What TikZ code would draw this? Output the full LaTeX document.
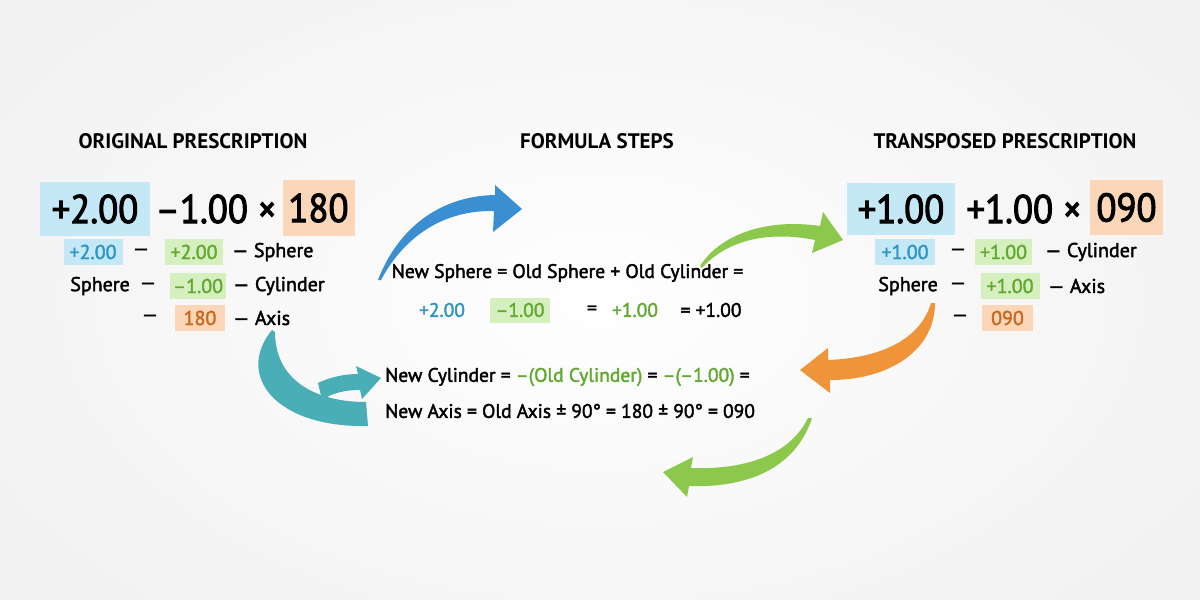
\documentclass[tikz,border=0pt]{standalone}
\usepackage{fontspec}
\setmainfont[Numbers=Proportional]{PT Sans}
\newfontfamily\medfont[Numbers=Proportional,FakeBold=2]{PT Sans}
\newfontfamily\bigfont[Numbers=Proportional,FakeBold=2.5,FakeStretch=0.92]{PT Sans}
\begin{document}
\begin{tikzpicture}[x=1pt,y=-1pt,
  bluebox/.style={fill=boxblue,inner sep=0pt,text=black},
  greenbox/.style={fill=boxgreen,inner sep=0pt},
  orangebox/.style={fill=boxorange,inner sep=0pt},
  title/.style={font=\fontsize{21}{24}\selectfont\bfseries,inner sep=0pt},
  big/.style={font=\fontsize{40}{44}\bigfont\selectfont,inner sep=0pt},
  small/.style={font=\fontsize{20}{23}\medfont\selectfont,inner sep=0pt},
  formula/.style={font=\fontsize{19.5}{23}\medfont\selectfont,inner sep=0pt}
]
\definecolor{boxblue}{HTML}{C4E8F6}
\definecolor{boxgreen}{HTML}{D6EFBF}
\definecolor{boxorange}{HTML}{FBD6B8}
\definecolor{tblue}{HTML}{2E95C4}
\definecolor{tgreen}{HTML}{62A832}
\definecolor{torange}{HTML}{C9681E}
\definecolor{ablue}{HTML}{3A8ED2}
\definecolor{agreen}{HTML}{8CC84B}
\definecolor{aorange}{HTML}{F0943A}
\definecolor{ateal}{HTML}{4AAEB6}
\useasboundingbox (0,0) rectangle (1200,600);
\shade[inner color=white,outer color=black!9] (-150,-150) rectangle (1350,750);
\fill[white,opacity=0.4] (0,0) rectangle (1200,600);

% titles
\node[title] (t1) at (193,141) {ORIGINAL PRESCRIPTION};
\node[title] (t2) at (597,141) {FORMULA STEPS};
\node[title] (t3) at (1005,141) {TRANSPOSED PRESCRIPTION};

% left big line
\node[bluebox,big,minimum width=110,minimum height=54] (lA) at (95,209) {+2.00};
\node[big] (lB) at (216,209) {–1.00 ×};
\node[orangebox,big,minimum width=72,minimum height=56] (lC) at (318.5,208) {180};

\node[bluebox,small,text=tblue,minimum width=59,minimum height=26] (l1a) at (93,252) {+2.00};
\node[small] (l1d) at (141,252) {—};
\node[greenbox,small,text=tgreen,minimum width=58,minimum height=26] (l1b) at (194,252) {+2.00};
\node[small,anchor=west] (l1c) at (232,252) {— Sphere};

\node[small,anchor=east] (l2a) at (130,286) {Sphere};
\node[small] (l2d) at (148,286) {—};
\node[greenbox,small,text=tgreen,minimum width=56,minimum height=26] (l2b) at (198,286) {–1.00};
\node[small,anchor=west] (l2c) at (233,286) {— Cylinder};

\node[small] (l3d) at (150,318) {—};
\node[orangebox,small,text=torange,minimum width=50,minimum height=26] (l3b) at (200,318) {180};
\node[small,anchor=west] (l3c) at (233,318) {— Axis};

% right big line
\node[bluebox,big,minimum width=108,minimum height=52] (rA) at (901,209) {+1.00};
\node[big] (rB) at (1024,209) {+1.00 ×};
\node[orangebox,big,minimum width=73,minimum height=55] (rC) at (1126.5,207.5) {090};

\node[bluebox,small,text=tblue,minimum width=60,minimum height=26] (r1a) at (905,252) {+1.00};
\node[small] (r1d) at (958,252) {—};
\node[greenbox,small,text=tgreen,minimum width=57,minimum height=26] (r1b) at (1003.5,252) {+1.00};
\node[small,anchor=west] (r1c) at (1045,252) {— Cylinder};

\node[small,anchor=east] (r2a) at (938,286) {Sphere};
\node[small] (r2d) at (958,286) {—};
\node[greenbox,small,text=tgreen,minimum width=59,minimum height=26] (r2b) at (1010,286) {+1.00};
\node[small,anchor=west] (r2c) at (1048,286) {— Axis};

\node[small] (r3d) at (960,318) {—};
\node[orangebox,small,text=torange,minimum width=51,minimum height=26] (r3b) at (1007.5,318) {090};

% formulas
\node[formula] (f1) at (567.5,273) {New Sphere = Old Sphere + Old Cylinder =};
\node[formula,text=tblue] (f2a) at (442,310) {+2.00};
\node[greenbox,formula,text=tgreen,minimum width=60,minimum height=25] (f2b) at (520,310) {–1.00};
\node[formula] (f2c) at (592,310) {=};
\node[formula,text=tgreen] (f2d) at (635,310) {+1.00};
\node[formula] (f2e) at (711,310) {= +1.00};
\node[formula,anchor=west] (f3) at (385,377) {New Cylinder = \textcolor{tgreen}{–(Old Cylinder)} = \textcolor{tgreen}{–(–1.00)} =};
\node[formula,anchor=west] (f4) at (385,411) {New Axis = Old Axis ± 90° = 180 ± 90° = 090};

% arrows
\fill[ablue] (378,280) .. controls (398,228) and (440,196) .. (495,195) -- (495,185) -- (522,209) -- (493,232) -- (494,211) .. controls (445,210) and (405,235) .. (381,280) -- cycle;
\fill[agreen] (700,266) .. controls (720,235) and (765,218) .. (820,226) -- (823,212) -- (843,240) -- (812,253) -- (815,240) .. controls (765,230) and (725,242) .. (702,268) -- cycle;
\fill[aorange] (935,303) .. controls (935,350) and (890,380) .. (830,380) -- (830,393) -- (800,370) -- (828,348) -- (828,360) .. controls (880,358) and (920,340) .. (931,303) -- cycle;
\fill[agreen] (812,418) .. controls (795,470) and (745,488) .. (689,486) -- (687,497) -- (663,472) -- (693,457) -- (691,468) .. controls (745,470) and (790,455) .. (808,418) -- cycle;
\fill[ateal] (272,330) .. controls (235,375) and (275,428) .. (368,426) -- (366,402) .. controls (315,402) and (275,380) .. (275,332) -- cycle;
\fill[ateal] (318,383) .. controls (330,377) and (345,374) .. (358,374) -- (356,366) -- (381,378) -- (362,399) -- (360,390) .. controls (345,390) and (332,393) .. (322,400) -- cycle;
\end{tikzpicture}
\end{document}
